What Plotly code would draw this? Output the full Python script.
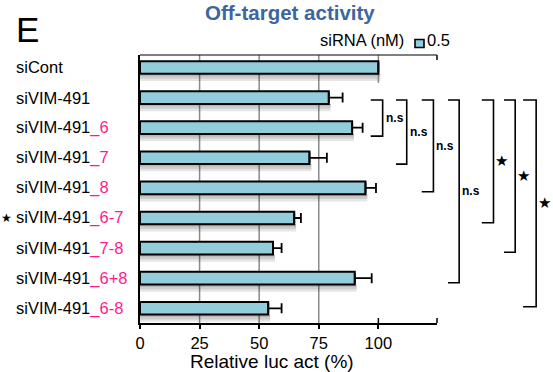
import plotly.graph_objects as go

# ---- data -------------------------------------------------------------
base_names = ["siCont", "siVIM-491", "siVIM-491", "siVIM-491", "siVIM-491",
              "siVIM-491", "siVIM-491", "siVIM-491", "siVIM-491"]
suffixes = ["", "", "_6", "_7", "_8", "_6-7", "_7-8", "_6+8", "_6-8"]
rel_luc = [100, 79.2, 89.0, 71.1, 94.6, 64.7, 55.8, 90.1, 53.8]
rel_err = [0, 5.8, 4.4, 7.3, 4.4, 2.8, 3.6, 7.1, 5.6]
x_ticks = [0, 25, 50, 75, 100]
conc_label = "0.5"

categories = [b + s for b, s in zip(base_names, suffixes)]

# significance brackets: (top row, bottom row, x left, x right, text)
brackets = [
    (1.08, 2.28, 96.8, 101.8, "n.s"),
    (1.08, 3.21, 107.4, 111.9, "n.s"),
    (1.08, 4.13, 118.2, 123.1, "n.s"),
    (1.08, 7.15, 129.2, 133.9, "n.s"),
    (1.08, 5.16, 143.4, 148.3, "★"),
    (1.08, 6.14, 152.7, 157.4, "★"),
    (1.08, 7.95, 160.7, 166.2, "★"),
]

# ---- geometry ---------------------------------------------------------
W, H = 553, 372
ML, MR, MT, MB = 140, 116, 55, 49
PW, PH = W - ML - MR, H - MT - MB
XMAX = 124.6
Y_RANGE = [8.489, -0.415]
BAR_W = 0.42
FONT = "Liberation Sans, Arial, Helvetica, sans-serif"
BAR_FILL = "#92CDDC"
PINK = "#FF1A8C"


def xp(v):
    return v / XMAX


def yp(v):
    return (Y_RANGE[0] - v) / (Y_RANGE[0] - Y_RANGE[1])


def px_x(d):
    return d / PW


def px_y(d):
    return d / PH


fig = go.Figure()
fig.add_trace(go.Bar(
    y=categories, x=rel_luc, orientation="h", width=BAR_W,
    marker=dict(color=BAR_FILL, line=dict(color="black", width=2)),
    error_x=dict(type="data", array=rel_err, arrayminus=[0] * len(rel_err),
                 symmetric=False, color="black", thickness=1.8, width=5),
    showlegend=False, hoverinfo="skip",
))

shapes = []
line_k = dict(color="black", width=1.6)

# soft drop shadow under each bar
for i, v in enumerate(rel_luc):
    y_bot = i + BAR_W / 2
    for h in (0.08, 0.16, 0.24):
        shapes.append(dict(type="rect", xref="x", yref="y", layer="below",
                           x0=0, x1=v + 0.8, y0=y_bot, y1=y_bot + h,
                           fillcolor="rgba(0,0,0,0.10)", line=dict(width=0)))

# vertical grid lines
for g in (25, 50, 75):
    shapes.append(dict(type="line", xref="x", yref="paper", layer="below",
                       x0=g, x1=g, y0=0, y1=1,
                       line=dict(color="#8a8a8a", width=1.5)))
# reference line at 100 through the control row
shapes.append(dict(type="line", xref="x", yref="y", layer="below",
                   x0=100, x1=100, y0=Y_RANGE[1], y1=0.51,
                   line=dict(color="#8a8a8a", width=1.5)))

# frame: top line with end tick, inner ticks on the bottom axis
shapes.append(dict(type="line", xref="paper", yref="paper",
                   x0=0, x1=1, y0=1, y1=1, line=dict(color="black", width=1.2)))
shapes.append(dict(type="line", xref="paper", yref="paper",
                   x0=1, x1=1, y0=1, y1=1 - px_y(5), line=dict(color="black", width=1.5)))
shapes.append(dict(type="line", xref="paper", yref="paper",
                   x0=1, x1=1, y0=0, y1=px_y(5), line=dict(color="black", width=1.5)))
shapes.append(dict(type="line", xref="x", yref="paper",
                   x0=100, x1=100, y0=0, y1=px_y(5), line=dict(color="black", width=1.5)))

annotations = []

# significance brackets and their labels
for top, bot, x0, x1, txt in brackets:
    X0, X1, Y0, Y1 = xp(x0), xp(x1), yp(top), yp(bot)
    shapes.append(dict(type="path", xref="paper", yref="paper",
                       path=f"M{X0},{Y0} L{X1},{Y0} L{X1},{Y1} L{X0},{Y1}",
                       line=line_k))
    ymid = yp((top + bot) / 2)
    if txt == "★":
        annotations.append(dict(xref="paper", yref="paper", x=X1 + px_x(8),
                                y=ymid, text=txt, showarrow=False,
                                xanchor="center", yanchor="middle",
                                font=dict(family="DejaVu Sans", size=15, color="black")))
    else:
        annotations.append(dict(xref="paper", yref="paper", x=X1 + px_x(1),
                                y=ymid, text=f"<b>{txt}</b>", showarrow=False,
                                xanchor="left", yanchor="middle",
                                font=dict(family=FONT, size=12, color="black")))

# left-aligned two-colour category labels
for cat, b, s in zip(categories, base_names, suffixes):
    txt = b + (f"<span style='color:{PINK}'>{s}</span>" if s else "")
    annotations.append(dict(xref="paper", yref="y", x=px_x(14 - ML), y=cat,
                            text=txt, showarrow=False, xanchor="left",
                            yanchor="middle",
                            font=dict(family=FONT, size=16.5, color="black")))

# star next to the _6-7 label
annotations.append(dict(xref="paper", yref="y", x=px_x(6 - ML), y=categories[5],
                        text="★", showarrow=False, xanchor="center", yanchor="middle",
                        font=dict(family="DejaVu Sans", size=12, color="black")))

# title and panel letter
annotations.append(dict(xref="paper", yref="paper", x=px_x(290 - ML),
                        y=1 + px_y(MT - 13), text="<b>Off-target activity</b>",
                        showarrow=False, xanchor="center", yanchor="middle",
                        font=dict(family=FONT, size=20.5, color="#3D65A0")))
annotations.append(dict(xref="paper", yref="paper", x=px_x(14 - ML),
                        y=1 + px_y(MT - 29), text="E", showarrow=False,
                        xanchor="left", yanchor="middle",
                        font=dict(family=FONT, size=35, color="black")))

# x-axis title
annotations.append(dict(xref="paper", yref="paper", x=px_x(272 - ML),
                        y=-px_y(361 - (MT + PH)), text="Relative luc act (%)",
                        showarrow=False, xanchor="center", yanchor="middle",
                        font=dict(family=FONT, size=19, color="black")))

# concentration key
annotations.append(dict(xref="paper", yref="paper", x=px_x(318 - ML),
                        y=1 + px_y(MT - 40), text="siRNA (nM)", showarrow=False,
                        xanchor="left", yanchor="middle",
                        font=dict(family=FONT, size=16.5, color="black")))
shapes.append(dict(type="rect", xref="paper", yref="paper",
                   x0=px_x(415 - ML), x1=px_x(424 - ML),
                   y0=1 + px_y(MT - 47.5), y1=1 + px_y(MT - 39.5),
                   fillcolor=BAR_FILL, line=dict(color="black", width=1.6)))
annotations.append(dict(xref="paper", yref="paper", x=px_x(425 - ML),
                        y=1 + px_y(MT - 40), text=conc_label, showarrow=False,
                        xanchor="left", yanchor="middle",
                        font=dict(family=FONT, size=16.5, color="black")))

fig.update_layout(
    width=W, height=H, margin=dict(l=ML, r=MR, t=MT, b=MB, autoexpand=False),
    paper_bgcolor="white", plot_bgcolor="white",
    shapes=shapes, annotations=annotations, showlegend=False,
    xaxis=dict(range=[0, XMAX], tickvals=x_ticks, ticktext=[str(t) for t in x_ticks],
               automargin=False,
               showgrid=False, zeroline=False, showline=True, linecolor="black",
               linewidth=2, ticks="outside", ticklen=4, tickwidth=1.5,
               tickcolor="black",
               tickfont=dict(family=FONT, size=16.5, color="black")),
    yaxis=dict(type="category", categoryorder="array", categoryarray=categories,
               range=Y_RANGE, showticklabels=False, showgrid=False, automargin=False,
               zeroline=False, showline=True, linecolor="black", linewidth=2,
               ticks=""),
)

fig.write_html("out.html")
